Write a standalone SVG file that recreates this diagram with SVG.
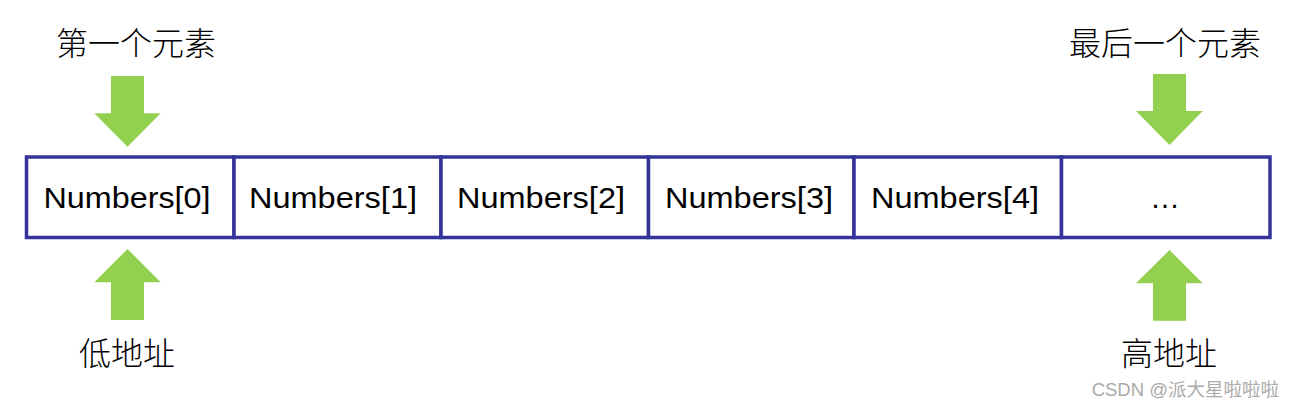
<svg xmlns="http://www.w3.org/2000/svg" width="1295" height="407" viewBox="0 0 1295 407">
<style>
.cell{fill:#fff;stroke:#333399;stroke-width:3.5}
.lbl{font-family:"Liberation Sans",Arial,sans-serif;font-size:30px;fill:#000;text-anchor:middle}
.cjk{font-family:"Noto Sans CJK SC",sans-serif;font-size:32px;font-weight:300;fill:#000;text-anchor:middle}
.arr{fill:#92D050}
.wm{font-family:"Liberation Sans","Noto Sans CJK SC",sans-serif;font-size:18.5px;fill:#aaaaaa;text-anchor:end}
</style>
<g id="cell0"><rect class="cell" x="26.5" y="157" width="207.5" height="80.5"/><text class="lbl" x="127" y="207.5" textLength="167" lengthAdjust="spacingAndGlyphs">Numbers[0]</text></g>
<g id="cell1"><rect class="cell" x="234" y="157" width="207" height="80.5"/><text class="lbl" x="333" y="207.5" textLength="168" lengthAdjust="spacingAndGlyphs">Numbers[1]</text></g>
<g id="cell2"><rect class="cell" x="441" y="157" width="207.5" height="80.5"/><text class="lbl" x="541" y="207.5" textLength="168" lengthAdjust="spacingAndGlyphs">Numbers[2]</text></g>
<g id="cell3"><rect class="cell" x="648.5" y="157" width="205.5" height="80.5"/><text class="lbl" x="749" y="207.5" textLength="168" lengthAdjust="spacingAndGlyphs">Numbers[3]</text></g>
<g id="cell4"><rect class="cell" x="854" y="157" width="207.5" height="80.5"/><text class="lbl" x="955" y="207.5" textLength="168" lengthAdjust="spacingAndGlyphs">Numbers[4]</text></g>
<g id="cell5"><rect class="cell" x="1061.5" y="157" width="208.5" height="80.5"/><text class="lbl" x="1165" y="207.5">…</text></g>
<g id="first"><text class="cjk" x="136" y="55">第一个元素</text></g>
<g id="last"><text class="cjk" x="1165" y="55">最后一个元素</text></g>
<g id="low"><text class="cjk" x="127" y="365">低地址</text></g>
<g id="high"><text class="cjk" x="1169" y="365">高地址</text></g>
<g id="connectors">
<polygon class="arr" points="111,76 144,76 144,113.3 160.7,113.3 127.5,146.7 94.3,113.3 111,113.3"/>
<polygon class="arr" points="127.5,249 160.7,282.3 144,282.3 144,320 111,320 111,282.3 94.3,282.3"/>
<polygon class="arr" points="1153,74 1186,74 1186,111 1202.7,111 1169.5,145 1136,111 1153,111"/>
<polygon class="arr" points="1169.5,250 1202.7,283.3 1186,283.3 1186,320.7 1153,320.7 1153,283.3 1136,283.3"/>
</g>
<text class="wm" x="1279" y="396">CSDN @派大星啦啦啦</text>
</svg>
